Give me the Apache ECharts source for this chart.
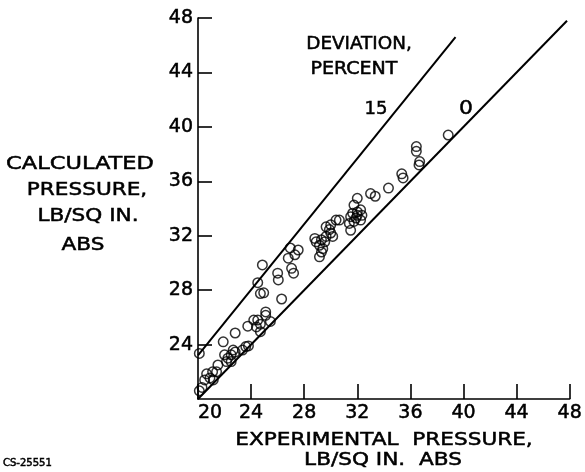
<!DOCTYPE html>
<html><head><meta charset="utf-8">
<script src="https://cdn.jsdelivr.net/npm/echarts@6/dist/echarts.min.js"></script>
<style>html,body{margin:0;padding:0;background:#fff}#c{width:585px;height:472px}</style>
</head><body><div id="c"></div>
<script>
const xMin = 20, xMax = 48, tickStep = 4;
const yMin = 20, yMax = 48;
const xTitleLines = ['EXPERIMENTAL  PRESSURE,', 'LB/SQ IN.  ABS'];
const yTitleLines = ['CALCULATED', 'PRESSURE,', 'LB/SQ IN.', 'ABS'];
const annotationLines = ['DEVIATION,', 'PERCENT'];
const deviationLabels = ['15', '0'];
const figureId = 'CS-25551';

const expPressure = [
  20.1, 20.1, 20.3, 20.5, 20.65, 20.9, 21.15, 21.1, 21.4, 21.5,
  21.9, 22.0, 22.15, 22.25, 22.5, 22.5, 22.65, 22.8, 22.8, 23.35,
  23.6, 23.8, 23.75, 24.2, 24.4, 24.5, 24.7, 24.7, 25.1, 25.1,
  25.45, 24.7, 24.95, 24.5, 24.85, 26.3, 26.0, 26.05, 26.8, 27.3,
  26.95, 27.55, 27.05, 27.2,
  28.8, 28.9, 29.3, 29.55, 29.15, 29.4, 29.3, 29.15, 29.65, 29.65,
  29.9, 30.0, 30.0, 30.15, 30.4, 30.65,
  31.75, 32.0, 32.25, 32.0, 31.65, 31.5, 31.9, 32.25, 31.75, 31.4,
  32.0, 32.35, 31.5, 33.0, 33.35, 34.35, 35.35, 35.45, 36.45, 36.45,
  36.7, 36.65, 38.85
];
const calcPressure = [
  23.35, 20.6, 20.85, 21.4, 21.85, 21.55, 21.4, 22.0, 22.0, 22.5,
  24.2, 23.25, 22.75, 23.0, 22.75, 23.25, 23.6, 23.45, 24.85, 23.6,
  23.85, 23.9, 25.35, 25.8, 25.3, 25.8, 24.95, 25.5, 26.4, 26.15,
  25.7, 27.75, 27.8, 28.55, 29.85, 27.35, 29.25, 28.75, 30.35, 30.6,
  31.1, 30.95, 29.6, 29.25,
  31.8, 31.55, 31.7, 31.55, 31.3, 31.05, 30.8, 30.45, 31.95, 32.65,
  32.45, 32.8, 32.2, 31.95, 33.15, 33.15,
  34.25, 34.75, 33.9, 33.75, 33.65, 33.4, 33.3, 33.15, 33.05, 32.9,
  33.5, 33.5, 32.4, 35.1, 34.9, 35.5, 36.55, 36.25, 38.55, 38.2,
  37.45, 37.2, 39.4
];
const zeroLineX = [20, 47.8], zeroLineY = [20, 47.8];
const line15X = [20, 39.4], line15Y = [23.2, 46.6];

const pts = expPressure.map((x, i) => [x, calcPressure[i]]);
const font = 'DejaVu Sans';
const chart = echarts.init(document.getElementById('c'), null, {renderer: 'canvas'});

const txt = (text, x, y, size, sx, align) => ({
  type: 'text', x: x, y: y, scaleX: sx || 1,
  style: {text: text, fill: '#000', stroke: '#000', lineWidth: 0.5,
          font: size + 'px "' + font + '"', textAlign: align || 'center', textVerticalAlign: 'middle'}
});

chart.setOption({
  animation: false,
  backgroundColor: '#fff',
  grid: {left: 198, right: 9, top: 18, bottom: 73},
  xAxis: {
    type: 'value', min: xMin, max: xMax, interval: tickStep,
    splitLine: {show: false},
    axisLine: {lineStyle: {color: '#000', width: 1.6}},
    axisTick: {inside: true, length: 15, lineStyle: {color: '#000', width: 1.6}},
    axisLabel: {
      color: '#000', fontFamily: font, fontSize: 19, margin: 5,
      textBorderColor: '#000', textBorderWidth: 0.5,
      formatter: v => v === xMin ? '{a|' + v + '}' : String(v),
      rich: {a: {color: '#000', fontFamily: font, fontSize: 19, padding: [0, 0, 0, 24],
                 textBorderColor: '#000', textBorderWidth: 0.5}}
    }
  },
  yAxis: {
    type: 'value', min: yMin, max: yMax, interval: tickStep,
    splitLine: {show: false},
    axisLine: {lineStyle: {color: '#000', width: 1.6}},
    axisTick: {inside: true, length: 14, lineStyle: {color: '#000', width: 1.6}},
    axisLabel: {color: '#000', fontFamily: font, fontSize: 19, margin: 5, showMinLabel: false,
                textBorderColor: '#000', textBorderWidth: 0.5}
  },
  series: [
    {type: 'line', data: zeroLineX.map((x, i) => [x, zeroLineY[i]]), symbol: 'none',
     lineStyle: {color: '#000', width: 2}, silent: true},
    {type: 'line', data: line15X.map((x, i) => [x, line15Y[i]]), symbol: 'none',
     lineStyle: {color: '#000', width: 2}, silent: true},
    {type: 'scatter', data: pts, symbol: 'circle', symbolSize: 9.5,
     itemStyle: {color: 'rgba(255,255,255,0)', borderColor: '#000', borderWidth: 1.5}}
  ],
  graphic: [
    txt(yTitleLines[0], 80, 164, 18, 1.25),
    txt(yTitleLines[1], 87, 190, 18, 1.2),
    txt(yTitleLines[2], 88, 216, 18, 1.2),
    txt(yTitleLines[3], 83, 245, 18, 1.2),
    txt(xTitleLines[0], 384, 440, 18, 1.2),
    txt(xTitleLines[1], 383, 460, 18, 1.2),
    txt(annotationLines[0], 359, 45, 17, 1.08),
    txt(annotationLines[1], 354, 70, 17, 1.12),
    txt(deviationLabels[0], 376, 109, 18),
    txt(deviationLabels[1], 466, 109, 20, 1.1),
    txt(figureId, 3, 463, 10, 1, 'left')
  ]
});
</script></body></html>
